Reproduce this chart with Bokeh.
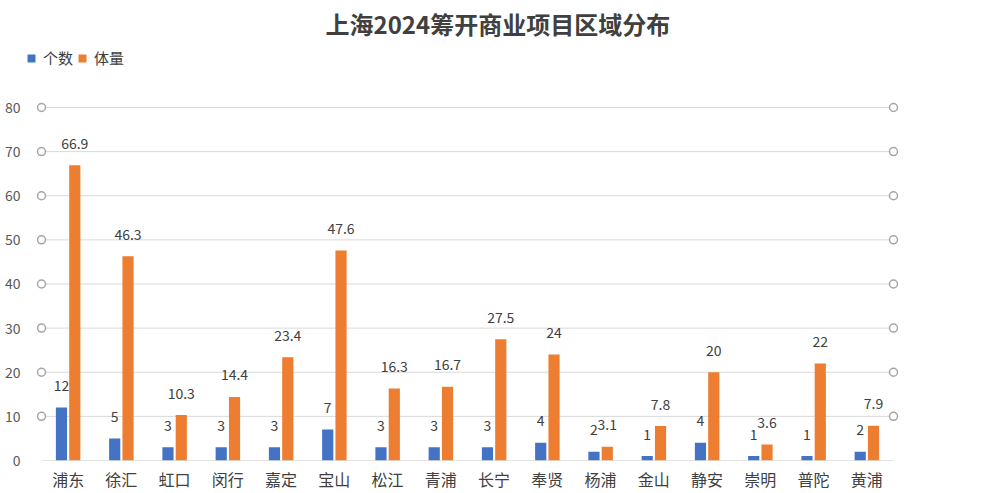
from bokeh.plotting import figure
from bokeh.models import ColumnDataSource, Range1d, FixedTicker, Legend, LegendItem
from bokeh.embed import file_html
from bokeh.resources import INLINE
from bokeh.core.properties import value

title_text = "上海2024筹开商业项目区域分布"
districts = ["浦东", "徐汇", "虹口", "闵行", "嘉定", "宝山", "松江", "青浦",
             "长宁", "奉贤", "杨浦", "金山", "静安", "崇明", "普陀", "黄浦"]
counts = [12, 5, 3, 3, 3, 7, 3, 3, 3, 4, 2, 1, 4, 1, 1, 2]
volumes = [66.9, 46.3, 10.3, 14.4, 23.4, 47.6, 16.3, 16.7, 27.5, 24, 3.1, 7.8, 20, 3.6, 22, 7.9]
y_ticks = [0, 10, 20, 30, 40, 50, 60, 70, 80]
series_names = ["个数", "体量"]

FONT = "Noto Sans CJK SC"
BLUE = "#4472C4"
ORANGE = "#ED7D31"

idx = list(range(len(districts)))
off = 0.125
bw = 0.21

src = ColumnDataSource(dict(
    xb=[i - off for i in idx],
    xo=[i + off for i in idx],
    counts=counts,
    volumes=volumes,
    clab=[str(c) for c in counts],
    vlab=[f"{v:g}" for v in volumes],
))

p = figure(width=993, height=493, output_backend="svg", toolbar_location=None,
           x_range=Range1d(-0.7817, 15.594), y_range=Range1d(0, 95.18),
           min_border_left=26, min_border_right=95, min_border_top=40,
           min_border_bottom=33, outline_line_color=None)

p.title.text = title_text
p.title.text_font = FONT
p.title.text_font_size = "24px"
p.title.text_font_style = "bold"
p.title.text_color = "#404040"
p.title.align = "left"
p.title.offset = 299
p.title.standoff = 0

p.xgrid.visible = False
p.ygrid.visible = False

# grid lines
gx0 = [-0.5] * len(y_ticks)
gx1 = [15.5] * len(y_ticks)
p.segment(x0=gx0[1:], x1=gx1[1:], y0=y_ticks[1:], y1=y_ticks[1:], line_color="#D9D9D9", line_width=1)
p.segment(x0=[-0.5], x1=[15.5], y0=[0], y1=[0], line_color="#C8C8C8", line_width=1)

rb = p.vbar(x="xb", top="counts", width=bw, source=src, fill_color=BLUE, line_color=None)
ro = p.vbar(x="xo", top="volumes", width=bw, source=src, fill_color=ORANGE, line_color=None)

# tick circles at both ends
cy = y_ticks[1:]
p.scatter(x=[-0.5] * len(cy) + [15.5] * len(cy), y=cy + cy, marker="circle", size=8,
          fill_color="white", line_color="#A6A6A6", line_width=1.5)

p.text(x="xb", y="counts", text="clab", source=src, text_align="center",
       text_baseline="alphabetic", y_offset=-22, text_font=value(FONT),
       text_font_size="14px", text_color="#404040")
p.text(x="xo", y="volumes", text="vlab", source=src, text_align="center",
       text_baseline="alphabetic", y_offset=-22, text_font=value(FONT),
       text_font_size="14px", text_color="#404040")

p.xaxis.ticker = FixedTicker(ticks=idx)
p.xaxis.major_label_overrides = {i: d for i, d in zip(idx, districts)}
p.xaxis.axis_line_color = None
p.xaxis.major_tick_line_color = None
p.xaxis.minor_tick_line_color = None
p.xaxis.major_label_text_font = FONT
p.xaxis.major_label_text_font_size = "16px"
p.xaxis.major_label_text_color = "#404040"
p.xaxis.major_label_standoff = 0

p.yaxis.ticker = FixedTicker(ticks=y_ticks)
p.yaxis.axis_line_color = None
p.yaxis.major_tick_line_color = None
p.yaxis.minor_tick_line_color = None
p.yaxis.major_label_text_font = FONT
p.yaxis.major_label_text_font_size = "14px"
p.yaxis.major_label_text_color = "#595959"
p.yaxis.major_label_standoff = 0

legend = Legend(items=[LegendItem(label=series_names[0], renderers=[rb]),
                       LegendItem(label=series_names[1], renderers=[ro])],
                orientation="horizontal", location=(0, 392),
                label_text_font=FONT, label_text_font_size="15px",
                label_text_color="#404040", glyph_width=10, glyph_height=10,
                label_standoff=7, spacing=4, padding=0, margin=0,
                border_line_color=None, background_fill_alpha=0)
p.add_layout(legend, "center")

open("out.html", "w").write(file_html(p, INLINE))
